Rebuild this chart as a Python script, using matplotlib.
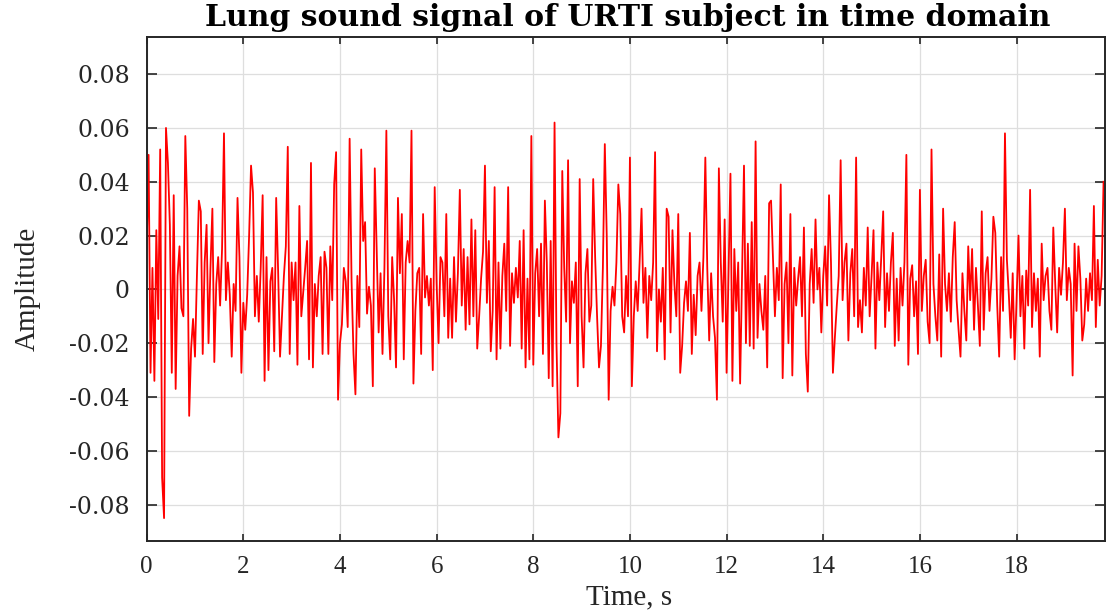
import matplotlib
matplotlib.use("Agg")
import matplotlib.pyplot as plt
import numpy as np

# sampled lung sound amplitude, one value every 0.04 s (units of 1e-3)
seg_a = [15, 50, -31, 8, -34, 22, -11, 52, -70, -85,
         60, 47, 24, -31, 35, -37, 5, 16, -7, -10,
         57, 30, -47, -22, -11, -25, 5, 33, 29, -24,
         10, 24, -20, 8, 30, -27, 2, 12, -6, 15,
         58, -4, 10, -2, -25, 2, -8, 34, 12, -31,
         -5, -15, -2, 20, 46, 36, -10, 5, -12, 8,
         35, -34]
seg_b = [12, -30, 3, 8, -23, 34, 7, -25, -10, 5,
         16, 53, -24, 10, -4, 10, -28, 31, -10, -1,
         8, 18, -26, 47, -29, 2, -10, 5, 12, -24,
         14, 8, -24, 16, -4, 39, 51, -41, -20, -13,
         8, 3, -14, 56, 3, -24, -39, 5, -14, 52,
         18, 25, -9, 1, -6, -36, 45, 14, -16, 6,
         -24]
seg_c = [8, 59, -10, -26, 12, -4, -29, 34, 6, 28,
         -26, 10, 18, 10, 59, -35, -8, 6, 8, -24,
         28, -3, 5, -6, 4, -30, 38, 2, -20, 12,
         10, -10, 28, -18, 4, -18, 12, -12, 6, 37,
         -6, 15, -15, 12, -13, 26, -10, 22, -22, -10,
         4, 14, 46, -5, 18, -23, -8, 38, -26, 10]
seg_d = [-22, 5, 17, -8, 38, -21, 6, -5, 8, -3,
         18, -22, 22, -29, 4, -26, 57, -28, 6, 15,
         -10, 17, -24, 33, 10, -33, 18, -36, 62, -20,
         -55, -46, 44, 8, -12, 48, -20, 3, -5, 10,
         -36, 41, -10, -29, 6, 15, -12, -6, 41, 12,
         -10, -29, -21, 8, 54, 20, -41, -8, 1, -6,
         10, 39, 28, -10, -16]
seg_e = [5, -10, 49, -36, -10, 3, -8, 10, 30, -5,
         8, -18, 5, -4, 10, 51, -23, 0, -12, 8,
         -26, 30, 27, -16, 22, 2, -10, 28, -31, -21,
         -5, 3, -8, 21, -24, -2, -17, 5, 10, -8,
         12, 49, 8, -19, 6, -10, -18, -41, 45, 10,
         -12, 26, -31, 5, 43, -34, 15, -8, 10, -35,
         5, 46]
seg_f = [-20, 17, -21, 25, -22, 55, -18, 2, -8, -15,
         5, -29, 32, 33, 12, -10, 8, -4, 39, -33,
         2, 10, -20, 28, -32, 8, -6, 4, 12, -10,
         23, -24, -38, 2, 15, -5, 26, 0, 8, -16,
         5, 16, -6, 35, 10, -31, -18, -6, 5, 48,
         -4, 10, 17, -19, 6, 15, -10, 49, -14, -4]
seg_g = [-16, 8, -6, 23, -10, 5, 22, -22, 10, -4,
         12, 29, -14, 6, -8, 10, 21, -21, 4, -19,
         8, -6, 10, 50, -28, 4, 9, -10, 3, -24,
         37, -8, 5, 11, -12, -20, 52, 2, -10, -19,
         13, -25, 30, 2, -8, 6, -12, 12, 25, -4,
         -15, -25, 6, -8, -19, 16, -4, 15, -15, 8,
         -6, -21, 29]
seg_h = [-15, 6, 12, -8, 4, 27, 21, -6, -25, 12,
         -8, 58, 11, -2, -18, 6, -26, -4, 20, -10,
         5, -22, 7, -6, 37, -14, 6, -8, 4, -25,
         17, -4, 5, 8, -8, -15, 23, 2, -16, 8,
         -2, 10, 30, -4, 8, 2, -32, 17, -8, 16,
         4, -19, -13, 4, -8, 6, -4, 31, -14, 11,
         -6, 5, 40]

dt = 0.04
x_ticks = [0, 2, 4, 6, 8, 10, 12, 14, 16, 18]
y_ticks = [-0.08, -0.06, -0.04, -0.02, 0, 0.02, 0.04, 0.06, 0.08]
y_tick_labels = ["-0.08", "-0.06", "-0.04", "-0.02", "0",
                 "0.02", "0.04", "0.06", "0.08"]

plt.rcParams["axes.unicode_minus"] = False

amp = np.array(seg_a + seg_b + seg_c + seg_d + seg_e + seg_f + seg_g + seg_h) * 1e-3
t = np.arange(len(amp)) * dt

fig = plt.figure(figsize=(11.06, 6.13), dpi=100)
ax = fig.add_axes([0.1326, 0.1175, 0.8665, 0.8217])
ax.plot(t, amp, color="#ff0000", lw=1.3)

ax.set_xlim(0, 19.83)
ax.set_ylim(-0.0935, 0.0937)
ax.set_xticks(x_ticks)
ax.set_xticklabels([str(v) for v in x_ticks], fontfamily="Liberation Serif", fontsize=18)
ax.set_yticks(y_ticks)
ax.set_yticklabels(y_tick_labels, fontfamily="DejaVu Serif", fontsize=17)

ax.set_axisbelow(True)
ax.grid(True, color="#dedede", lw=0.9)
ax.tick_params(axis="x", direction="in", top=True, length=5, width=1.2,
               color="#262626", labelcolor="#262626", pad=11)
ax.tick_params(axis="y", direction="in", right=True, length=7, width=1.2,
               color="#262626", labelcolor="#262626", pad=12)
for s in ax.spines.values():
    s.set_color("#262626")
    s.set_linewidth(1.4)

fig.text(628 / 1106, 1 - 18 / 613, "Lung sound signal of URTI subject in time domain",
         ha="center", va="center", fontfamily="DejaVu Serif", fontweight="bold",
         fontsize=21.5, color="black")
fig.text(629 / 1106, 1 - 597 / 613, "Time, s", ha="center", va="center",
         fontfamily="Liberation Serif", fontsize=21, color="#262626")
fig.text(28 / 1106, 1 - 289 / 613, "Amplitude", ha="center", va="center", rotation=90,
         fontfamily="Liberation Serif", fontsize=21, color="#262626")

fig.savefig("out.png", dpi=100)
